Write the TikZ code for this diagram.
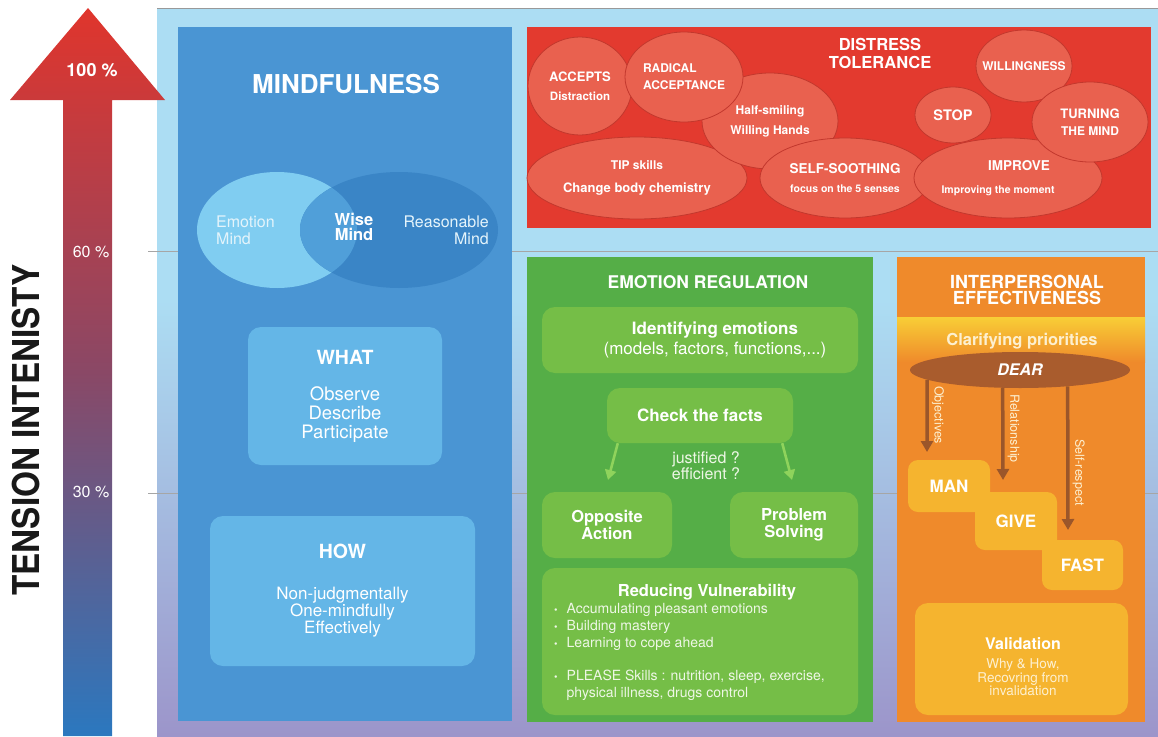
\documentclass[tikz,border=0pt]{standalone}
\usepackage{fontspec}
\usepackage{graphicx}
\setmainfont{TeX Gyre Heros}
\usetikzlibrary{positioning,shapes.geometric,arrows.meta}

\definecolor{bgtop}{HTML}{ACDDF3}
\definecolor{bgbot}{HTML}{9C95CA}
\definecolor{arrred}{HTML}{E0352C}
\definecolor{arrmid}{HTML}{8A4866}
\definecolor{arrblue}{HTML}{2B78BF}
\definecolor{mfpanel}{HTML}{4A95D3}
\definecolor{venlight}{HTML}{80CDF1}
\definecolor{vendark}{HTML}{3A85C6}
\definecolor{venwise}{HTML}{509FD9}
\definecolor{mfbox}{HTML}{64B6E7}
\definecolor{emtext}{HTML}{E4F4FB}
\definecolor{dtpanel}{HTML}{E33A2F}
\definecolor{dtblob}{HTML}{E9614F}
\definecolor{dtline}{HTML}{C2382D}
\definecolor{erpanel}{HTML}{55AE47}
\definecolor{erbox}{HTML}{75BE47}
\definecolor{erarrow}{HTML}{8FD35C}
\definecolor{ertext}{HTML}{EEF7E6}
\definecolor{iepanel}{HTML}{EF8A2B}
\definecolor{ieband}{HTML}{F8CE36}
\definecolor{iebox}{HTML}{F5B42F}
\definecolor{dearbrown}{HTML}{A95C2D}
\definecolor{iearrow}{HTML}{9B562A}
\definecolor{ietext}{HTML}{FDF0D0}

\newcommand\fsz[2]{\fontsize{#1pt}{#2pt}\selectfont}
\newcommand\subf{\fontsize{11.5pt}{15pt}\selectfont}
\newcommand\dotb{{\fontsize{10pt}{17pt}\selectfont\textbullet}}

\begin{document}
\begin{tikzpicture}[x=1pt, y=-1pt,
    txt/.style={text=white, inner sep=0pt, align=center},
    head/.style={txt, font=\fsz{17.5}{16}\bfseries},
    sz/.style 2 args={minimum width=#1pt, minimum height=#2pt},
    box/.style={txt, rounded corners=13pt},
    blob/.style={txt, ellipse, draw=dtline, line width=0.8pt, fill=dtblob, font=\fsz{12}{15}\bfseries},
    grarrow/.style={draw=erarrow, line width=2.6pt, -{Triangle[width=11pt,length=10pt]}},
    dearrow/.style={draw=iearrow, line width=3.5pt, -{Triangle[width=12pt,length=11pt]}},
    arrlbl/.style={txt, text=ietext, rotate=-90, anchor=south, inner sep=3pt, font=\fsz{12.5}{14}}]
  \useasboundingbox (0,0) rectangle (1158,736);

  % background and tension arrow
  \fill[bgtop] (157,8) rectangle (1158,736);
  \shade[top color=bgtop, bottom color=bgbot] (157,300) rectangle (1158,736);
  \draw[black!40, line width=0.6pt] (157,8) -- (1158,8);
  \foreach \y in {251,493}
    \draw[black!35, line width=0.6pt] (148,\y) -- (1158,\y);
  \shade[top color=arrred, bottom color=arrblue, middle color=arrmid]
    (63,736) -- (63,100) -- (10,100) -- (88,8) -- (165,100) -- (112,100) -- (112,736) -- cycle;
  \node[txt, font=\fsz{18}{20}\bfseries] (p100) at (92,70) {100 \%};
  \node[txt, font=\fsz{16}{18}] (p60) at (91,252) {60 \%};
  \node[txt, font=\fsz{16}{18}] (p30) at (91,492) {30 \%};
  \node[txt, text=black!90, rotate=90, font=\fsz{37}{40}\bfseries] (tension) at (26,430)
    {\scalebox{0.9}[1]{TENSION INTENISTY}};

  % mindfulness
  \fill[mfpanel] (178,27) rectangle (512,721);
  \node[txt, font=\fsz{26}{28}\bfseries] (mtitle) at (346,84) {MINDFULNESS};
  \fill[venlight] (277,230) ellipse [x radius=80, y radius=58];
  \fill[vendark] (399,230) ellipse [x radius=99, y radius=58];
  \begin{scope}
    \clip (277,230) ellipse [x radius=80, y radius=58];
    \fill[venwise] (399,230) ellipse [x radius=99, y radius=58];
  \end{scope}
  \node[txt, text=emtext, align=left, anchor=west, font=\fsz{16}{17}] (emo) at (216,230) {Emotion\\Mind};
  \node[txt, font=\fsz{16.5}{15}\bfseries] (wise) at (354,227) {Wise\\Mind};
  \node[txt, text=emtext, align=right, anchor=east, font=\fsz{16}{17}] (reason) at (489,230) {Reasonable\\Mind};
  \node[box, fill=mfbox, sz={194}{138}, font=\fsz{18.5}{19}] (what) at (345,396)
    {{\fsz{19.5}{19}\bfseries WHAT}\\[17pt]Observe\\Describe\\Participate};
  \node[box, fill=mfbox, sz={265}{150}, font=\fsz{17}{17}] (how) at (342.5,591)
    {{\fsz{19.5}{17}\bfseries HOW}\\[24pt]Non-judgmentally\\One-mindfully\\Effectively};

  % distress tolerance
  \fill[dtpanel] (527,27) rectangle (1151,228);
  \node[head, font=\fsz{16.5}{18}\bfseries] (dtitle) at (880,53) {DISTRESS\\TOLERANCE};
  \node[blob, sz={220}{82}] (tip) at (637,178) {TIP skills\\[8pt]{\fsz{13}{15}Change body chemistry}};
  \node[blob, sz={136}{96}] (half) at (770,121) {Half-smiling\\[5pt]Willing Hands};
  \node[blob, sz={170}{80}] (soothe) at (845,178) {{\fsz{13.5}{15}SELF-SOOTHING}\\[4pt]{\fsz{10.5}{15}focus on the 5 senses}};
  \node[blob, sz={180}{80}] (improve) at (1008,178)
    {{\fsz{13.5}{15}\hspace*{22pt}IMPROVE}\\[8pt]{\fsz{10.5}{15}Improving the moment\hspace*{20pt}}};
  \node[blob, sz={104}{98}] (accepts) at (580,86) {{\fsz{13}{15}ACCEPTS}\\[4pt]{\subf Distraction}};
  \node[blob, sz={118}{90}, align=left] (radical) at (684,77) {RADICAL\\[2pt]ACCEPTANCE};
  \node[blob, sz={76}{56}] (stop) at (953,115) {\fsz{14.5}{15}STOP};
  \node[blob, sz={96}{72}] (will) at (1024,66) {\makebox[0pt]{\fsz{12}{15}WILLINGNESS}};
  \node[blob, sz={116}{80}] (turn) at (1090,122) {\fsz{13}{15}TURNING\\[2pt]THE MIND};

  % emotion regulation
  \fill[erpanel] (527,257) rectangle (873,722);
  \node[head] (ertitle) at (708,282.5) {EMOTION REGULATION};
  \node[box, fill=erbox, sz={316}{66}] (ident) at (700,340) {};
  \node[txt, font=\fsz{17}{20}] (identtxt) at (715,340)
    {\textbf{Identifying emotions}\\(models, factors, functions,...)};
  \node[box, fill=erbox, sz={186}{55}, font=\fsz{17}{19}\bfseries] (check) at (700,415.5) {Check the facts};
  \node[box, fill=erbox, sz={130}{66}, font=\fsz{16.5}{17}\bfseries] (opp) at (607,525) {Opposite\\Action};
  \node[box, fill=erbox, sz={128}{66}, font=\fsz{16.5}{17}\bfseries] (prob) at (794,525) {Problem\\Solving};
  \coordinate (oppin) at (608,480);
  \coordinate (probin) at (792,480);
  \draw[grarrow] ([xshift=11pt]check.south west) -- (oppin);
  \draw[grarrow] ([xshift=-11pt]check.south east) -- (probin);
  \node[txt, text=ertext, font=\fsz{16}{15}] (just) at (706,466) {justified ?\\efficient ?};
  \node[box, fill=erbox, sz={316}{147}] (reduce) at (700,641.5) {};
  \node[txt, font=\fsz{16.5}{18}\bfseries] (redtitle) at (707,592) {Reducing Vulnerability};
  \node[txt, text=ertext, align=left, anchor=north west, font=\fsz{14}{17}] (redlist) at (554,601)
    {\begin{tabular}{@{}l@{\hspace{9pt}}l@{}}
       \dotb & Accumulating pleasant emotions\\
       \dotb & Building mastery\\
       \dotb & Learning to cope ahead\\[16pt]
       \dotb & PLEASE Skills : nutrition, sleep, exercise,\\
             & physical illness, drugs control
     \end{tabular}};

  % interpersonal effectiveness
  \fill[iepanel] (897,257) rectangle (1145,722);
  \shade[top color=ieband, bottom color=iepanel] (897,317) rectangle (1145,362);
  \node[head, font=\fsz{18}{16}\bfseries] (ietitle) at (1027,290) {INTERPERSONAL\\EFFECTIVENESS};
  \node[txt, text=ietext, font=\fsz{16.5}{18}\bfseries] (clar) at (1022,341) {Clarifying priorities};
  \node[txt, ellipse, fill=dearbrown, sz={220}{36}, font=\fsz{16}{18}\bfseries\itshape] (dear) at (1020,370) {DEAR};
  \node[box, fill=iebox, sz={82}{52}, rounded corners=10pt, font=\fsz{17}{19}\bfseries] (man) at (949,486) {MAN};
  \node[box, fill=iebox, sz={82}{58}, rounded corners=10pt, font=\fsz{17}{19}\bfseries] (give) at (1016,521) {GIVE};
  \node[box, fill=iebox, sz={81}{50}, rounded corners=10pt, font=\fsz{17}{19}\bfseries] (fast) at (1082.5,565) {FAST};
  \coordinate (objend) at (927,452);
  \coordinate (relend) at (1003,480);
  \coordinate (selfend) at (1068,530);
  \draw[dearrow] (dear.186) -- node[arrlbl, pos=0.49] (objlbl) {Objectives} (objend);
  \draw[dearrow] (dear.226) -- node[arrlbl, pos=0.44] (rellbl) {Relationship} (relend);
  \draw[dearrow] (dear.341) -- node[arrlbl, pos=0.60] (selflbl) {Self-respect} (selfend);
  \node[box, fill=iebox, sz={213}{112}] (valid) at (1021.5,659) {};
  \node[txt, text=ietext, font=\fsz{13.5}{13.5}] (validtxt) at (1023,667)
    {{\fsz{16}{13.5}\bfseries\color{white}Validation}\\[5.5pt]Why \& How,\\Recovring from\\invalidation};
\end{tikzpicture}
\end{document}
